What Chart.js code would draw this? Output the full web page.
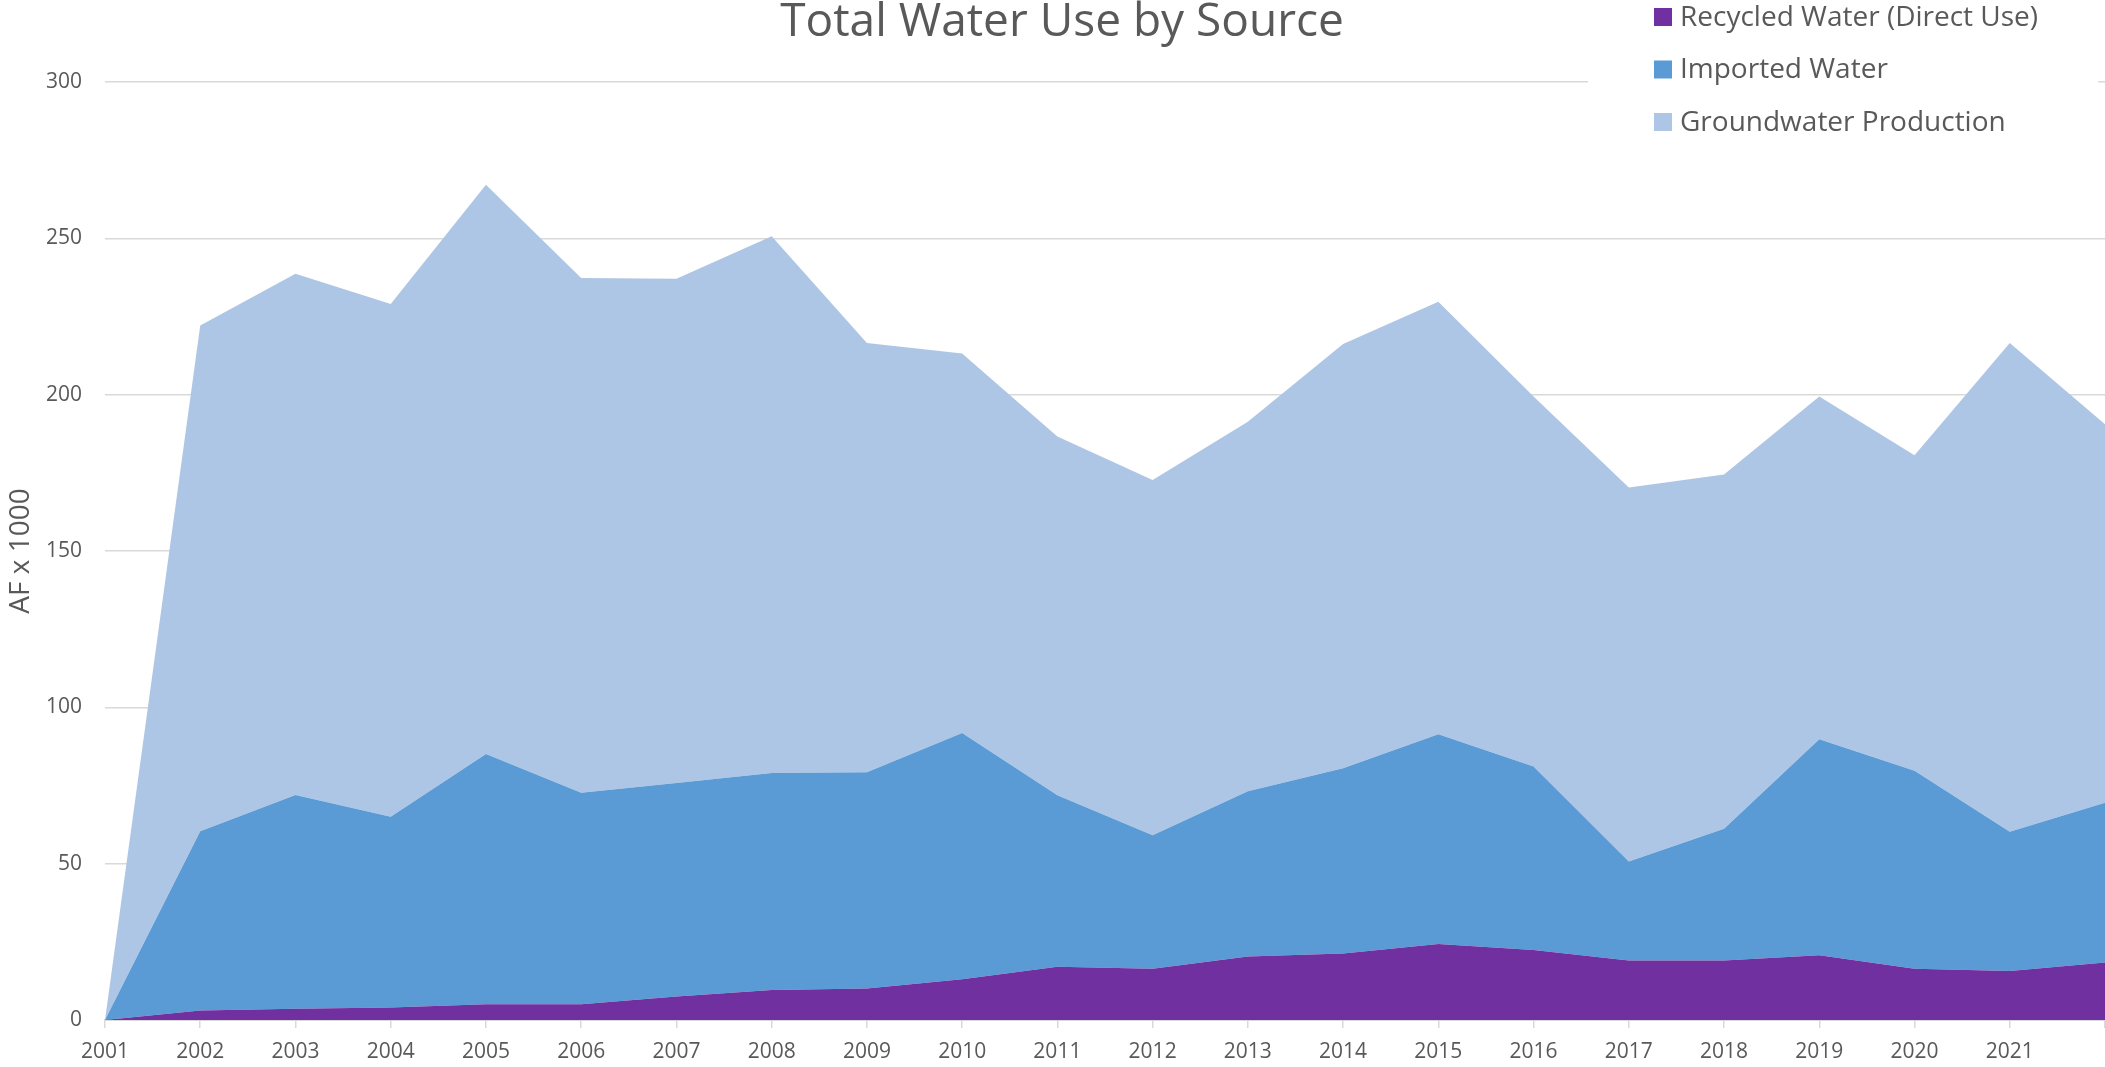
<!DOCTYPE html>
<html>
<head>
<meta charset="utf-8">
<script src="https://cdn.jsdelivr.net/npm/chart.js@4.4.1/dist/chart.umd.min.js"></script>
<style>
html,body{margin:0;padding:0;background:#fff;overflow:hidden}
#wrap{position:relative;width:2105px;height:1067px;overflow:hidden}
</style>
</head>
<body>
<div id="wrap"><canvas id="c" width="2200" height="1067"></canvas></div>
<script>
// ---- data (AF x 1000) ----
const years = ['2001','2002','2003','2004','2005','2006','2007','2008','2009','2010','2011','2012','2013','2014','2015','2016','2017','2018','2019','2020','2021','2022'];
const recycledWater = [0, 3.0, 3.6, 4.0, 5.0, 5.0, 7.5, 9.6, 10.1, 13.0, 17.0, 16.4, 20.3, 21.3, 24.3, 22.4, 19.0, 19.0, 20.7, 16.4, 15.7, 18.4];
const importedWater = [0, 57.4, 68.4, 61.0, 80.1, 67.7, 68.3, 69.4, 69.1, 78.8, 54.9, 42.7, 52.9, 59.2, 67.1, 58.7, 31.7, 42.2, 69.1, 63.3, 44.5, 51.1];
const groundwaterProduction = [0, 161.7, 166.7, 164.0, 182.0, 164.6, 161.3, 171.7, 137.3, 121.4, 114.7, 113.6, 118.1, 135.7, 138.3, 118.3, 119.6, 113.3, 109.6, 100.9, 156.3, 121.0];
const seriesNames = ['Recycled Water (Direct Use)', 'Imported Water', 'Groundwater Production'];
const chartTitle = 'Total Water Use by Source';
const yAxisTitle = 'AF x 1000';

// ---- styles ----
const COLORS = ['#7030A0', '#5B9BD5', '#AEC6E5'];
const TEXT = '#595959';
const GRID = '#D9D9D9';
const FONT = "'Open Sans', sans-serif";

const overlay = {
  id: 'overlay',
  afterDraw(chart) {
    const ctx = chart.ctx;
    ctx.save();
    ctx.fillStyle = TEXT;
    ctx.font = '46px ' + FONT;
    ctx.textAlign = 'center';
    ctx.textBaseline = 'alphabetic';
    ctx.fillText(chartTitle, 1062, 36);
    // legend box
    ctx.fillStyle = '#ffffff';
    ctx.fillRect(1588, 0, 510, 150);
    ctx.font = '28px ' + FONT;
    ctx.textAlign = 'left';
    ctx.textBaseline = 'middle';
    chart.data.datasets.forEach((ds, i) => {
      const y = 17 + i * 52.5;
      ctx.fillStyle = ds.backgroundColor;
      ctx.fillRect(1654, y - 9, 18, 18);
      ctx.fillStyle = TEXT;
      ctx.fillText(ds.label, 1680, y + 1);
    });
    ctx.restore();
  }
};

const seriesData = [recycledWater, importedWater, groundwaterProduction];
const datasets = seriesData.map((d, i) => ({
  label: seriesNames[i],
  data: d,
  backgroundColor: COLORS[i],
  borderWidth: 0,
  pointRadius: 0,
  pointHoverRadius: 0,
  tension: 0,
  fill: i === 0 ? 'origin' : '-1'
}));

new Chart(document.getElementById('c'), {
  type: 'line',
  data: { labels: years, datasets },
  options: {
    responsive: false,
    animation: false,
    devicePixelRatio: 1,
    layout: { padding: { top: 82, right: 95, bottom: 0, left: 0 } },
    plugins: { legend: { display: false }, tooltip: { enabled: false }, title: { display: false } },
    scales: {
      x: {
        grid: { display: true, drawOnChartArea: false, drawTicks: true, tickLength: 8, color: GRID, lineWidth: 1.5 },
        border: { display: true, color: GRID, width: 2 },
        ticks: {
          color: TEXT, font: { family: FONT, size: 21 }, padding: 11, maxRotation: 0, autoSkip: false,
          callback: (v, i) => (i === years.length - 1 ? '' : years[i])
        },
        afterFit: s => { s.height = 47; }
      },
      y: {
        stacked: true,
        min: 0, max: 300,
        ticks: { stepSize: 50, color: TEXT, font: { family: FONT, size: 21 }, padding: 23 },
        grid: { color: GRID, lineWidth: 1.5, drawTicks: false },
        border: { display: false },
        title: { display: true, text: yAxisTitle, color: TEXT, font: { family: FONT, size: 28 }, padding: { top: 4, bottom: 0 } },
        afterFit: s => { s.width = 105; }
      }
    }
  },
  plugins: [overlay]
});
</script>
</body>
</html>
